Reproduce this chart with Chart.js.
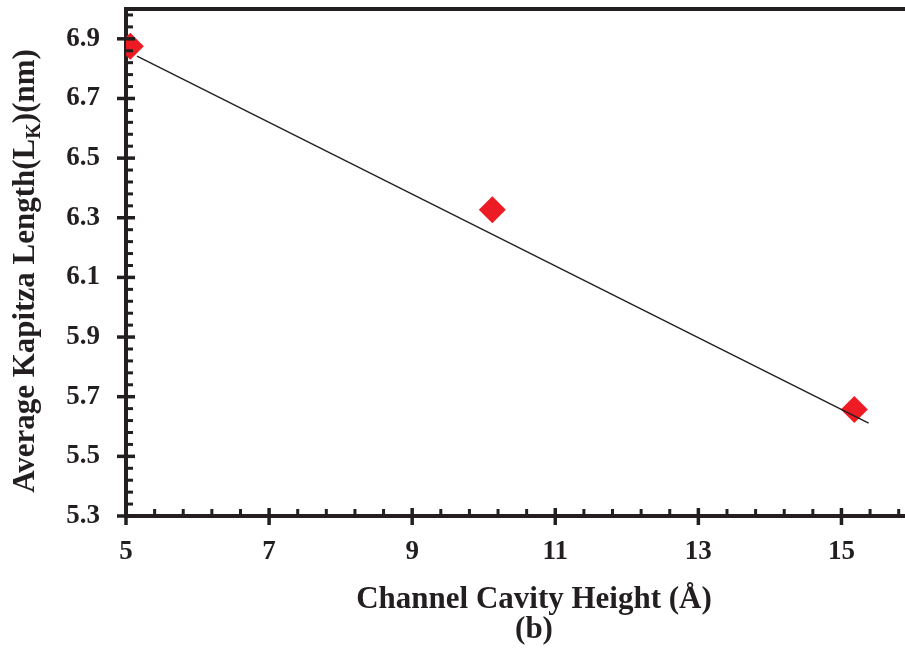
<!DOCTYPE html>
<html>
<head>
<meta charset="utf-8">
<title>Kapitza length vs channel height</title>
<script src="https://cdn.jsdelivr.net/npm/chart.js@4/dist/chart.umd.min.js"></script>
<style>
  html, body { margin: 0; padding: 0; background: #fff; overflow: hidden; }
  #wrap { width: 905px; height: 650px; overflow: hidden; }
</style>
</head>
<body>
<div id="wrap"><canvas id="kapitza" width="918" height="650"></canvas></div>
<script>
// ----- Data -----
const cavityHeight = [5.06, 10.12, 15.18];      // Å
const kapitzaLength = [6.875, 6.327, 5.657];    // nm
const trendX = [5.154, 15.38];
const trendY = [6.842, 5.611];

const xTickValues = [5, 7, 9, 11, 13, 15];
const yTickValues = [5.3, 5.5, 5.7, 5.9, 6.1, 6.3, 6.5, 6.7, 6.9];

const INK = "#231f20";
const RED = "#ed1c24";
const SERIF = "'Liberation Serif', 'Times New Roman', serif";

// ----- Frame, tick marks and axis titles -----
const framePlugin = {
  id: "frame",
  afterDraw(chart) {
    const { ctx, chartArea: a, scales: { x, y } } = chart;
    ctx.save();
    ctx.strokeStyle = INK;
    ctx.lineCap = "butt";

    // top edge of the box
    ctx.lineWidth = 4;
    ctx.beginPath();
    ctx.moveTo(a.left - 2, a.top);
    ctx.lineTo(a.right, a.top);
    ctx.stroke();

    // x ticks: majors cross the axis, minors point inward
    for (let i = 0; ; i++) {
      const v = x.min + i * 0.4;
      if (v > x.max + 1e-9) break;
      const px = x.getPixelForValue(v);
      ctx.beginPath();
      if (i % 5 === 0) {
        ctx.lineWidth = 3.5;
        ctx.moveTo(px, a.bottom - 8);
        ctx.lineTo(px, a.bottom + 9);
      } else {
        ctx.lineWidth = 3;
        ctx.moveTo(px, a.bottom);
        ctx.lineTo(px, a.bottom - 7);
      }
      ctx.stroke();
    }

    // y ticks
    for (let i = 0; ; i++) {
      const v = y.min + i * 0.04;
      if (v > y.max + 1e-9) break;
      const py = y.getPixelForValue(v);
      ctx.beginPath();
      if (i % 5 === 0) {
        ctx.lineWidth = 3.5;
        ctx.moveTo(a.left - 9, py);
        ctx.lineTo(a.left + 9, py);
      } else {
        ctx.lineWidth = 3;
        ctx.moveTo(a.left, py);
        ctx.lineTo(a.left + 7, py);
      }
      ctx.stroke();
    }

    ctx.fillStyle = INK;

    // x title, with the panel tag under it
    ctx.font = "bold 31px " + SERIF;
    ctx.textAlign = "center";
    ctx.textBaseline = "alphabetic";
    ctx.fillText("Channel Cavity Height (Å)", 534, 608);
    ctx.fillText("(b)", 534, 638);

    // y title with subscript K
    const big = "bold 31px " + SERIF;
    const small = "bold 20px " + SERIF;
    const parts = [
      { t: "Average Kapitza Length(L", f: big, dy: 0 },
      { t: "K", f: small, dy: 6 },
      { t: ")(nm)", f: big, dy: 0 },
    ];
    let total = 0;
    parts.forEach(p => { ctx.font = p.f; p.w = ctx.measureText(p.t).width; total += p.w; });
    ctx.translate(34, 271);
    ctx.rotate(-Math.PI / 2);
    ctx.textAlign = "left";
    let u = -total / 2;
    parts.forEach(p => {
      ctx.font = p.f;
      ctx.fillText(p.t, u, p.dy);
      u += p.w;
    });
    ctx.restore();
  }
};

// ----- Chart -----
const tickFont = { family: SERIF, weight: "bold", size: 27 };

new Chart(document.getElementById("kapitza"), {
  type: "scatter",
  data: {
    datasets: [
      {
        label: "Linear fit",
        data: trendX.map((v, i) => ({ x: v, y: trendY[i] })),
        showLine: true,
        borderColor: INK,
        borderWidth: 1.4,
        pointRadius: 0,
      },
      {
        label: "Average Kapitza length",
        data: cavityHeight.map((v, i) => ({ x: v, y: kapitzaLength[i] })),
        pointStyle: "rectRot",
        pointRadius: 13.5,
        backgroundColor: RED,
        borderColor: RED,
        borderWidth: 0,
      },
    ],
  },
  options: {
    responsive: false,
    animation: false,
    layout: { autoPadding: false, padding: { top: 9, right: 5, left: 0, bottom: 0 } },
    plugins: {
      legend: { display: false },
      tooltip: { enabled: false },
    },
    scales: {
      x: {
        type: "linear",
        min: 5,
        max: 16,
        afterBuildTicks: s => { s.ticks = xTickValues.map(v => ({ value: v })); },
        afterFit: s => { s.height = 134; s.paddingLeft = 0; s.paddingRight = 0; },
        grid: { display: false, drawTicks: false, tickLength: 0 },
        border: { display: true, color: INK, width: 4 },
        ticks: { color: INK, font: tickFont, padding: 20, maxRotation: 0 },
      },
      y: {
        type: "linear",
        min: 5.3,
        max: 7.0,
        afterBuildTicks: s => { s.ticks = yTickValues.map(v => ({ value: v })); },
        afterFit: s => { s.width = 126; s.paddingTop = 0; s.paddingBottom = 0; },
        grid: { display: false, drawTicks: false, tickLength: 0 },
        border: { display: true, color: INK, width: 4 },
        ticks: { color: INK, font: tickFont, padding: 26, callback: v => v.toFixed(1) },
      },
    },
  },
  plugins: [framePlugin],
});
</script>
</body>
</html>
